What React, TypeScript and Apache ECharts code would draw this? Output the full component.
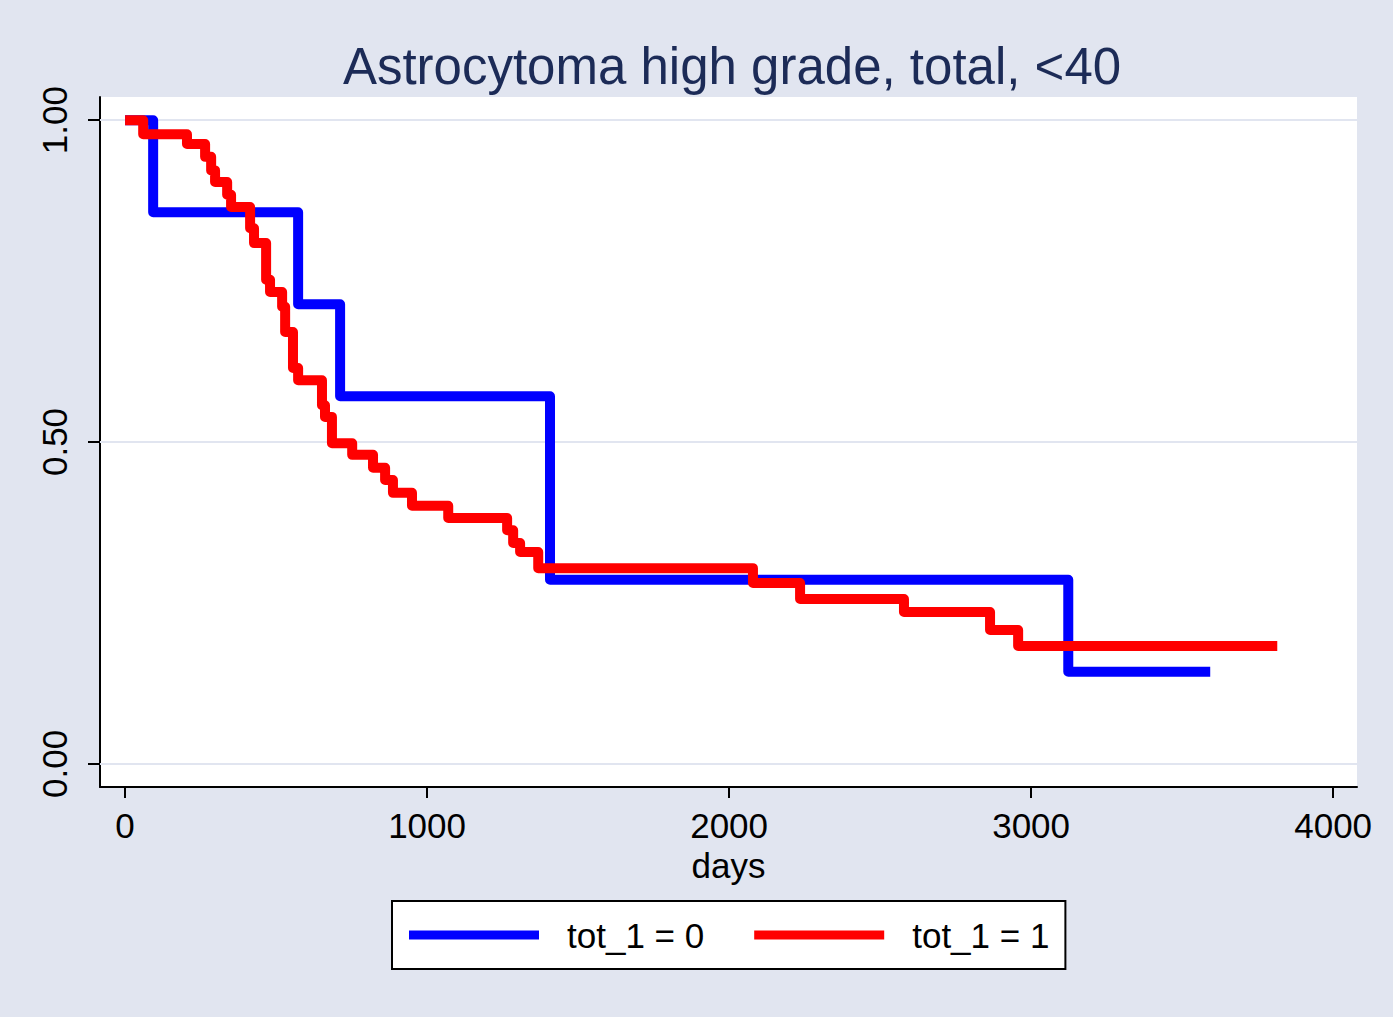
import React, { useEffect, useRef } from 'react';
import * as echarts from 'echarts';

const titleText = 'Astrocytoma high grade, total, <40';
const xAxisName = 'days';
const xTicks = [0, 1000, 2000, 3000, 4000];
const yTicks = [0, 0.5, 1];
const seriesNames = ['tot_1 = 0', 'tot_1 = 1'];
const seriesColors = ['#0000ff', '#ff0000'];

const days0 = [0, 93, 573, 712, 1407, 3123, 3593];
const surv0 = [1, 0.857, 0.714, 0.571, 0.286, 0.143, 0.143];

const days1 = [0, 60, 205, 265, 285, 298, 338, 351, 414, 427, 467, 480, 520, 530, 556, 573, 652, 662, 685, 752, 821, 861, 887, 950, 1070, 1265, 1285, 1308, 1368, 2079, 2235, 2579, 2864, 2957, 3815];
const surv1 = [1, 0.978, 0.963, 0.943, 0.922, 0.904, 0.884, 0.865, 0.832, 0.809, 0.752, 0.733, 0.71, 0.671, 0.615, 0.596, 0.557, 0.539, 0.498, 0.48, 0.46, 0.441, 0.421, 0.401, 0.382, 0.363, 0.343, 0.329, 0.304, 0.281, 0.256, 0.236, 0.208, 0.183, 0.183];

const FONT = "'Liberation Sans', Arial, Helvetica, sans-serif";
const BG = '#e1e5f0';

export default function App() {
  const ref = useRef<HTMLDivElement>(null);
  useEffect(() => {
    document.body.style.margin = '0';
    const chart = echarts.init(ref.current as HTMLDivElement, null, { renderer: 'svg' });
    const mk = (name: string, color: string, d: number[], s: number[], z: number) => ({
      name,
      type: 'line',
      step: 'end',
      data: d.map((x, i) => [x, s[i]]),
      showSymbol: false,
      symbol: 'none',
      z,
      lineStyle: { color, width: 10, join: 'round', cap: 'butt' },
      itemStyle: { color },
    });
    chart.setOption({
      animation: false,
      backgroundColor: BG,
      title: {
        text: titleText,
        left: 727,
        top: 36,
        textAlign: 'center',
        textStyle: { fontSize: 51, fontWeight: 'normal', color: '#1c2b57', fontFamily: FONT },
      },
      grid: { left: 100, top: 97, width: 1257, height: 690, show: true, backgroundColor: '#ffffff', borderWidth: 0 },
      legend: {
        left: 392,
        top: 901,
        orient: 'horizontal',
        backgroundColor: '#ffffff',
        borderColor: '#000000',
        borderWidth: 2,
        borderRadius: 0,
        padding: [11, 16, 11, 17],
        itemGap: 50,
        itemWidth: 130,
        itemHeight: 9,
        icon: 'rect',
        data: seriesNames,
        textStyle: { fontSize: 35, color: '#000', fontFamily: FONT, padding: [0, 0, 0, 23], lineHeight: 46 },
      },
      xAxis: {
        type: 'value',
        min: -83,
        max: 4079,
        name: xAxisName,
        nameLocation: 'middle',
        nameGap: 57,
        nameTextStyle: { fontSize: 35, color: '#000', fontFamily: FONT },
        axisLine: { show: true, onZero: false, lineStyle: { color: '#000', width: 2 } },
        axisTick: { show: true, length: 11, customValues: xTicks, lineStyle: { color: '#000', width: 2 } },
        axisLabel: {
          customValues: xTicks,
          fontSize: 35,
          color: '#000',
          margin: 21,
          fontFamily: FONT,
          formatter: (v: number) => String(v),
        },
        splitLine: { show: false },
      },
      yAxis: {
        type: 'value',
        min: -0.036,
        max: 1.036,
        axisLine: { show: true, onZero: false, lineStyle: { color: '#000', width: 2 } },
        axisTick: { show: true, length: 12, customValues: yTicks, lineStyle: { color: '#000', width: 2 } },
        axisLabel: {
          customValues: yTicks,
          rotate: 90,
          fontSize: 35,
          color: '#000',
          margin: 28,
          fontFamily: FONT,
          formatter: (v: number) => v.toFixed(2),
        },
        splitLine: { show: false },
      },
      series: [
        {
          type: 'line',
          data: [[0, 0]],
          showSymbol: false,
          symbol: 'none',
          lineStyle: { opacity: 0 },
          silent: true,
          z: 1,
          markLine: {
            silent: true,
            z: 1,
            symbol: 'none',
            label: { show: false },
            lineStyle: { color: BG, width: 2, type: 'solid' },
            data: yTicks.map((v) => ({ yAxis: v })),
          },
        },
        mk(seriesNames[0], seriesColors[0], days0, surv0, 3),
        mk(seriesNames[1], seriesColors[1], days1, surv1, 4),
      ],
    });
    return () => chart.dispose();
  }, []);
  return <div ref={ref} style={{ width: 1393, height: 1017 }} />;
}
